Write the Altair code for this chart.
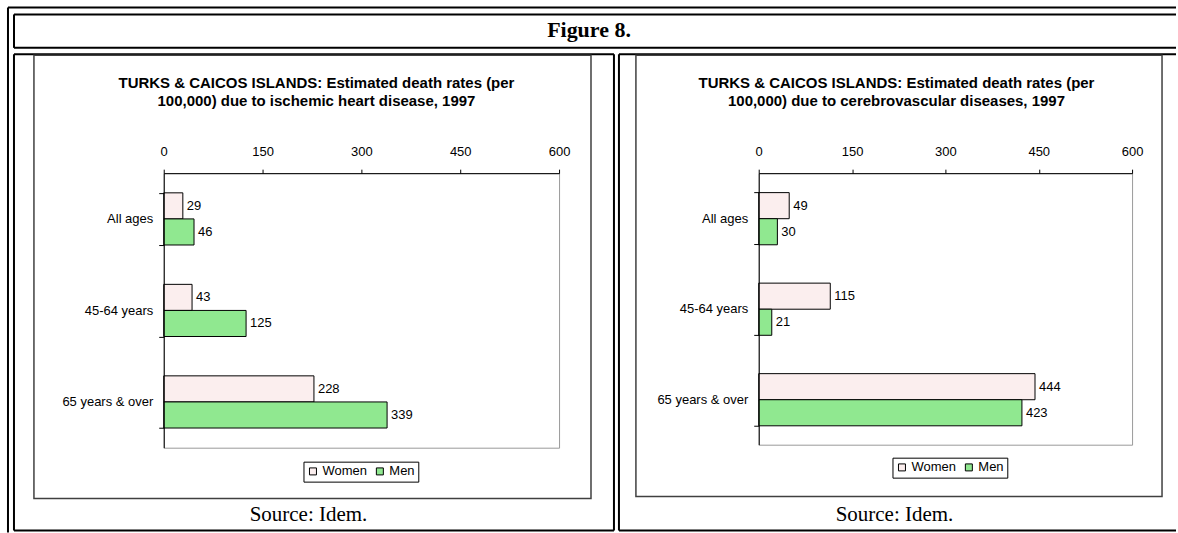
import altair as alt
import pandas as pd

# ---------------- data ----------------
categories = ["All ages", "45-64 years", "65 years & over"]
sexes = ["Women", "Men"]
ihd_women = [29, 43, 228]
ihd_men = [46, 125, 339]
cvd_women = [49, 115, 444]
cvd_men = [30, 21, 423]
x_ticks = [0, 150, 300, 450, 600]
title_ihd = ["TURKS & CAICOS ISLANDS: Estimated death rates (per",
             "100,000) due to ischemic heart disease, 1997"]
title_cvd = ["TURKS & CAICOS ISLANDS: Estimated death rates (per",
             "100,000) due to cerebrovascular diseases, 1997"]
fig_title = "Figure 8."
source_text = "Source: Idem."

SANS = "Liberation Sans"
SERIF = "Liberation Serif"
FS = 13
sex_colors = ["#fbeeee", "#90e890"]


def table(women, men):
    rows = []
    for c, a, b in zip(categories, women, men):
        rows.append({"age": c, "sex": "Women", "rate": a})
        rows.append({"age": c, "sex": "Men", "rate": b})
    return pd.DataFrame(rows)


one = alt.Data(values=[{"k": 1}])


def deco(ox, oy):
    """helpers that place decoration marks in page pixel coordinates"""
    def hline(x1, x2, y, color="black", w=2):
        return alt.Chart(one).mark_rule(color=color, strokeWidth=w).encode(
            x=alt.value(x1 - ox), x2=alt.value(x2 - ox), y=alt.value(y - oy))

    def vline(x, y1, y2, color="black", w=2):
        return alt.Chart(one).mark_rule(color=color, strokeWidth=w).encode(
            x=alt.value(x - ox), y=alt.value(y1 - oy), y2=alt.value(y2 - oy))

    def box(x1, y1, x2, y2, color="black", w=2):
        return alt.Chart(one).mark_rect(stroke=color, strokeWidth=w, fill="white",
                                        fillOpacity=0).encode(
            x=alt.value(x1 - ox), x2=alt.value(x2 - ox),
            y=alt.value(y1 - oy), y2=alt.value(y2 - oy))

    def text(s, x, y, font=SANS, size=FS, bold=False):
        return alt.Chart(one).mark_text(font=font, fontSize=size,
                                        fontWeight="bold" if bold else "normal",
                                        color="black", align="center",
                                        baseline="middle").encode(
            x=alt.value(x - ox), y=alt.value(y - oy), text=alt.value(s))
    return hline, vline, box, text


def panel(df, width, height, ox, oy, legend_xy, extra_layers):
    y_enc = alt.Y("age:N", sort=categories,
                  scale=alt.Scale(paddingInner=0.43, paddingOuter=0.215),
                  axis=alt.Axis(title=None, tickBand="extent", tickSize=5,
                                labelPadding=6, domainColor="black",
                                tickColor="black", labelColor="black",
                                labelFont=SANS, labelFontSize=FS, zindex=1))
    x_enc = alt.X("rate:Q", scale=alt.Scale(domain=[0, 600]),
                  axis=alt.Axis(orient="top", values=x_ticks, title=None,
                                grid=False, tickSize=4, labelPadding=11,
                                labelFlush=False,
                                domainColor="black", tickColor="black",
                                labelColor="black", labelFont=SANS,
                                labelFontSize=FS, zindex=1))
    yoff = alt.YOffset("sex:N", sort=sexes,
                       scale=alt.Scale(paddingInner=0, paddingOuter=0))
    color = alt.Color("sex:N", sort=sexes,
                      scale=alt.Scale(domain=sexes, range=sex_colors),
                      legend=alt.Legend(title=None, orient="none",
                                        legendX=legend_xy[0] - ox,
                                        legendY=legend_xy[1] - oy,
                                        direction="horizontal",
                                        strokeColor="black", padding=3,
                                        fillColor="white",
                                        symbolType="square", symbolSize=49,
                                        symbolStrokeColor="black",
                                        symbolStrokeWidth=1,
                                        labelFont=SANS, labelFontSize=FS,
                                        labelColor="black", labelOffset=3,
                                        columnPadding=6))
    base = alt.Chart(df)
    bars = base.mark_bar(stroke="black", strokeWidth=1).encode(
        x=x_enc, y=y_enc, yOffset=yoff, color=color)
    labels = base.mark_text(align="left", baseline="middle", dx=4,
                            font=SANS, fontSize=FS, color="black").encode(
        x="rate:Q", y=alt.Y("age:N", sort=categories), yOffset=yoff,
        text="rate:Q")
    return alt.layer(*extra_layers, bars, labels).properties(
        width=width, height=height)


# ---------------- left panel ----------------
LOX, LOY = 163, 172
hl, vl, bx, tx = deco(LOX, LOY)
left_extra = [
    bx(0, 0, 1178, 533, color="white", w=0),
    # outer table double border
    hl(7, 1177, 6), vl(7, 6, 532),
    hl(13, 1177, 13), vl(13, 13, 46.5), hl(13, 1177, 46.5),
    tx(fig_title, 589, 29, font=SERIF, size=22, bold=True),
    # left cell
    hl(13, 614, 53), vl(13, 53, 530), vl(614, 53, 530), hl(13, 614, 530),
    # right cell
    hl(619, 1177, 53), vl(619, 53, 530), hl(619, 1177, 530),
    # left chart area frame
    bx(33, 54, 591, 498, color="#404040", w=1.5),
    tx(title_ihd[0], 316, 82, size=15, bold=True),
    tx(title_ihd[1], 316, 100, size=15, bold=True),
    tx(source_text, 308, 514, font=SERIF, size=21),
]
left = panel(table(ihd_women, ihd_men), 396, 275, LOX, LOY,
             (303, 461), left_extra)

# ---------------- right panel ----------------
ROX, ROY = 759, 172
hl2, vl2, bx2, tx2 = deco(ROX, ROY)
right_extra = [
    bx2(636, 54, 1163, 496, color="#404040", w=1.5),
    tx2(title_cvd[0], 897, 82, size=15, bold=True),
    tx2(title_cvd[1], 897, 100, size=15, bold=True),
    tx2(source_text, 895, 514, font=SERIF, size=21),
]
right = panel(table(cvd_women, cvd_men), 374, 272, ROX, ROY,
              (893, 457), right_extra)

chart = alt.hconcat(left, right, spacing=200, bounds="flush").resolve_scale(
    color="independent").resolve_legend(color="independent").properties(
    padding=0, background="white").configure_view(
    stroke="#9a9a9a", strokeWidth=1)

chart.save("out.html", embed_options={"renderer": "svg", "actions": False})
